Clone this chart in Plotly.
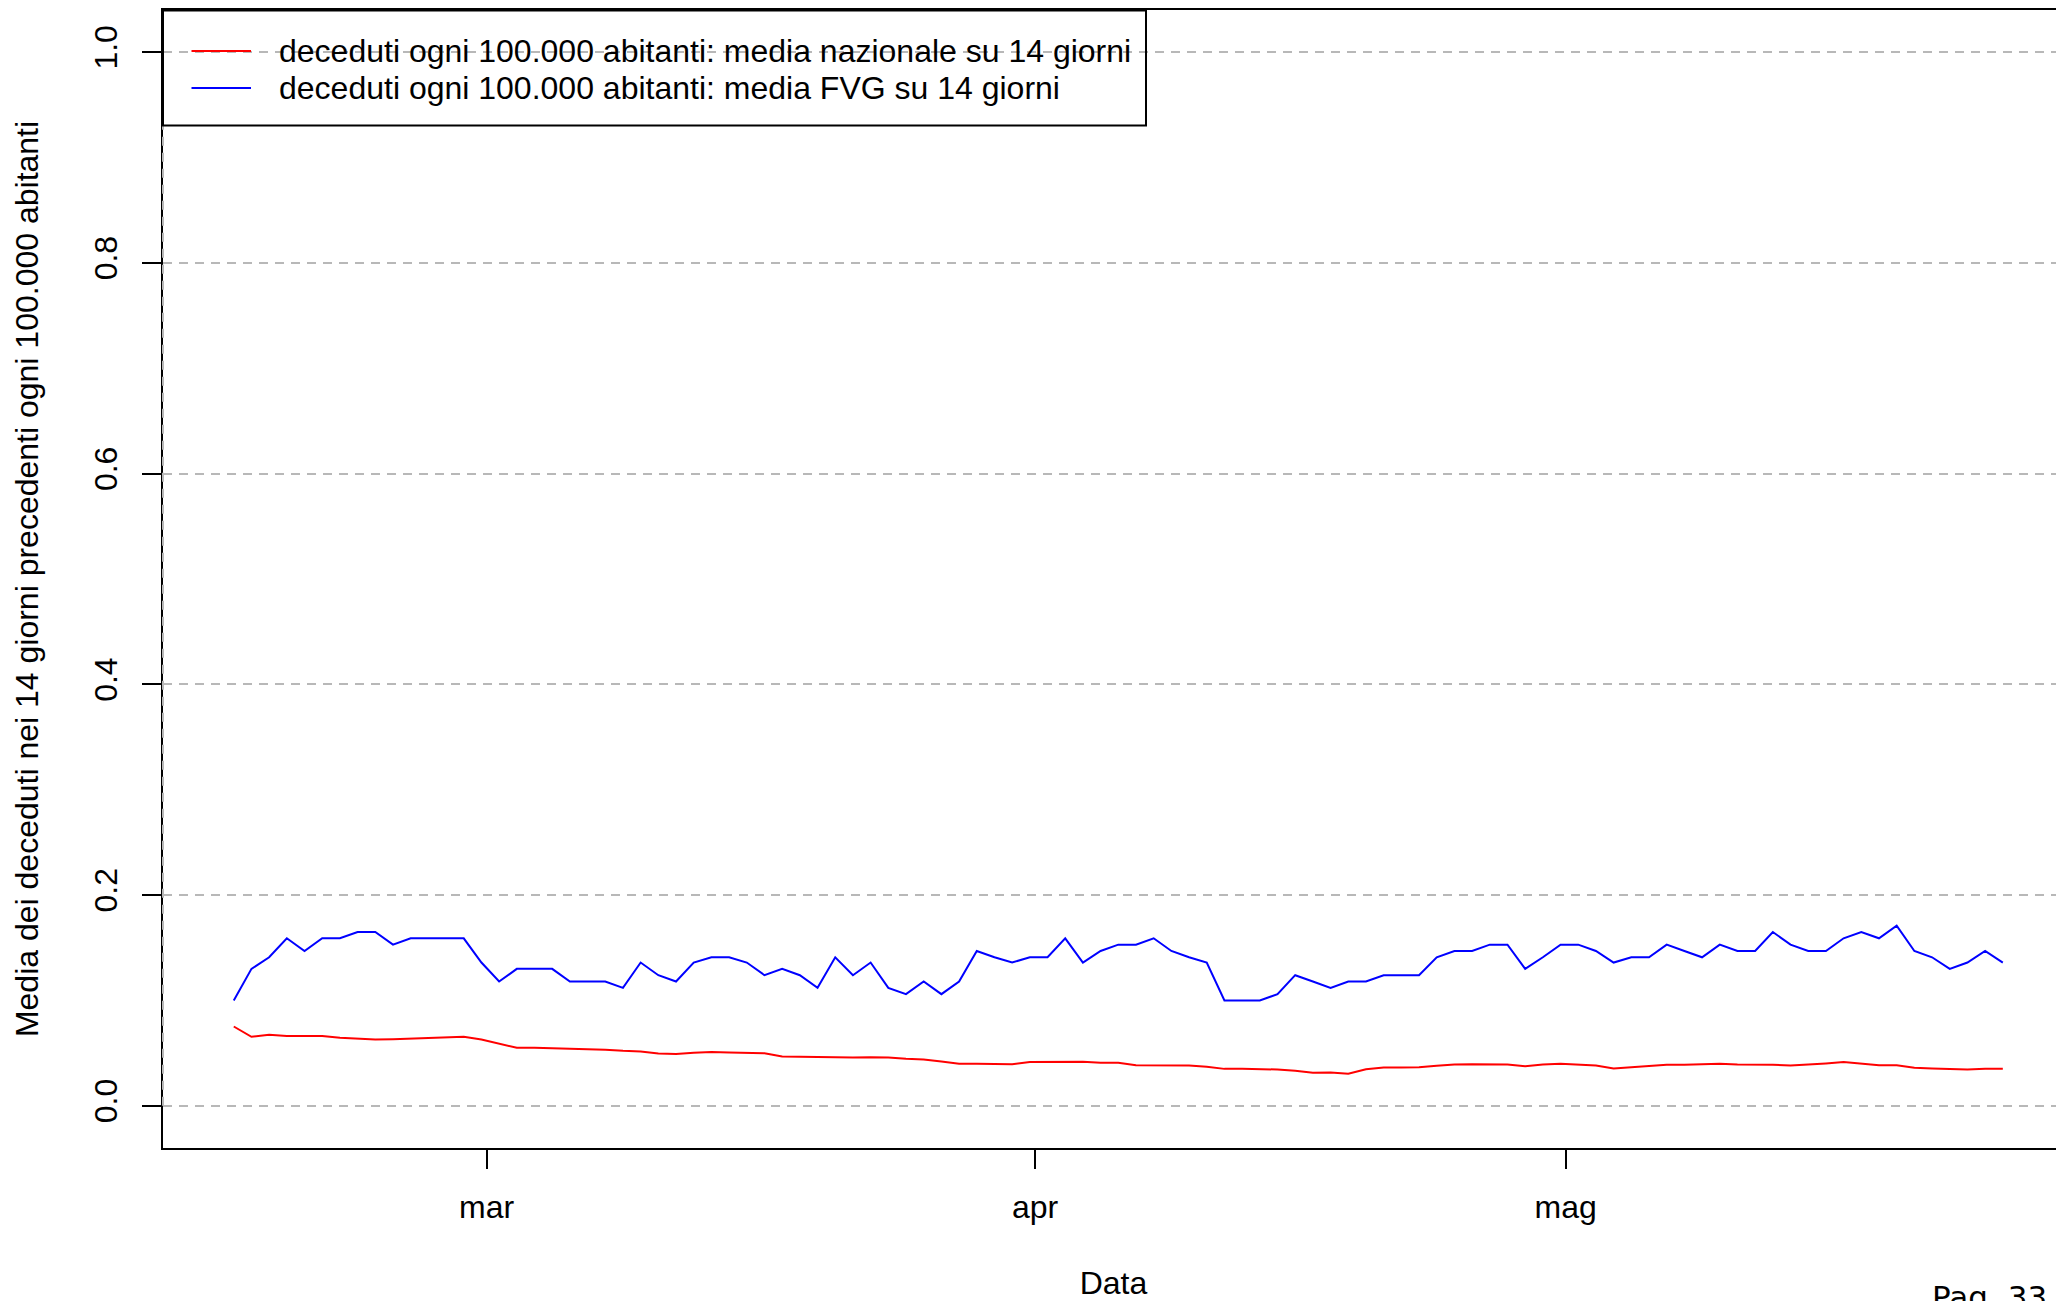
import pandas as pd
import plotly.graph_objects as go

# ---------------- data ----------------
start_date = "2023-02-14 17:00"
n_days = 101

nazionale = [
    0.0753, 0.0655, 0.0674, 0.0664, 0.0664, 0.0664, 0.0646, 0.0636, 0.0630, 0.0633,
    0.0639, 0.0649, 0.0649, 0.0655, 0.0630, 0.0592, 0.0551, 0.0551, 0.0548, 0.0538,
    0.0541, 0.0532, 0.0522, 0.0516, 0.0497, 0.0491, 0.0503, 0.0510, 0.0506, 0.0503,
    0.0500, 0.0468, 0.0465, 0.0462, 0.0459, 0.0459, 0.0462, 0.0459, 0.0446, 0.0440,
    0.0421, 0.0399, 0.0399, 0.0396, 0.0396, 0.0415, 0.0418, 0.0421, 0.0418, 0.0408,
    0.0408, 0.0386, 0.0383, 0.0386, 0.0383, 0.0370, 0.0351, 0.0351, 0.0351, 0.0345,
    0.0332, 0.0314, 0.0317, 0.0304, 0.0348, 0.0364, 0.0364, 0.0367, 0.0380, 0.0392,
    0.0396, 0.0396, 0.0392, 0.0377, 0.0392, 0.0399, 0.0389, 0.0383, 0.0354, 0.0367,
    0.0383, 0.0389, 0.0389, 0.0392, 0.0399, 0.0392, 0.0392, 0.0389, 0.0383, 0.0389,
    0.0402, 0.0415, 0.0399, 0.0386, 0.0386, 0.0361, 0.0354, 0.0348, 0.0345, 0.0351,
    0.0351,
]

fvg = [
    0.100, 0.130, 0.141, 0.159, 0.147, 0.159, 0.159, 0.165, 0.165, 0.153,
    0.159, 0.159, 0.159, 0.159, 0.136, 0.118, 0.130, 0.130, 0.130, 0.118,
    0.118, 0.118, 0.112, 0.136, 0.124, 0.118, 0.136, 0.141, 0.141, 0.136,
    0.124, 0.130, 0.124, 0.112, 0.141, 0.124, 0.136, 0.112, 0.106, 0.118,
    0.106, 0.118, 0.147, 0.141, 0.136, 0.141, 0.141, 0.159, 0.136, 0.147,
    0.153, 0.153, 0.159, 0.147, 0.141, 0.136, 0.100, 0.100, 0.100, 0.106,
    0.124, 0.118, 0.112, 0.118, 0.118, 0.124, 0.124, 0.124, 0.141, 0.147,
    0.147, 0.153, 0.153, 0.130, 0.141, 0.153, 0.153, 0.147, 0.136, 0.141,
    0.141, 0.153, 0.147, 0.141, 0.153, 0.147, 0.147, 0.165, 0.153, 0.147,
    0.147, 0.159, 0.165, 0.159, 0.171, 0.147, 0.141, 0.130, 0.136, 0.147,
    0.136,
]

x_tick_vals = ["2023-03-01", "2023-04-01", "2023-05-01"]
x_tick_text = ["mar", "apr", "mag"]
y_tick_vals = [0.0, 0.2, 0.4, 0.6, 0.8, 1.0]
y_tick_text = ["0.0", "0.2", "0.4", "0.6", "0.8", "1.0"]

legend_labels = [
    "deceduti ogni 100.000 abitanti: media nazionale su 14 giorni",
    "deceduti ogni 100.000 abitanti: media FVG su 14 giorni",
]
series_colors = ["#FF0000", "#0000FF"]

dates = pd.date_range(start_date, periods=n_days, freq="D")

# ---------------- layout geometry (pixels) ----------------
# the page body has an 8px margin, so the figure starts at (8, 8)
OFF = 8
W, H = 2064 - OFF, 1301 - OFF
PLOT_LEFT, PLOT_TOP, PLOT_BOTTOM = 163, 10, 1148   # page pixels
L = PLOT_LEFT - OFF
T = PLOT_TOP - OFF
B = H - (PLOT_BOTTOM - OFF)
R = 0
PW = W - L - R
PH = H - T - B


def px_x(px):
    return (px - PLOT_LEFT) / PW


def px_y(py):
    return (PLOT_BOTTOM - py) / PH


FONT = "Liberation Sans, Arial, Helvetica, sans-serif"

fig = go.Figure()
for vals, name, col in zip([nazionale, fvg], legend_labels, series_colors):
    fig.add_trace(go.Scatter(
        x=dates, y=vals, mode="lines", name=name,
        line=dict(color=col, width=2), showlegend=False,
    ))

shapes = []
# dashed grey segment over the left axis
shapes.append(dict(type="line", xref="paper", yref="y", x0=0, x1=0, y0=0, y1=1,
                   line=dict(color="#b8b8b8", width=2, dash="9px,7px"), layer="above"))
# legend box
shapes.append(dict(type="rect", xref="paper", yref="paper",
                   x0=px_x(163), x1=px_x(1146), y0=px_y(125.5), y1=px_y(10.5),
                   line=dict(color="black", width=2), fillcolor="rgba(0,0,0,0)", layer="above"))
row_y = [51, 88]
annotations = []
for ry, lab, col in zip(row_y, legend_labels, series_colors):
    shapes.append(dict(type="line", xref="paper", yref="paper",
                       x0=px_x(191.5), x1=px_x(251), y0=px_y(ry), y1=px_y(ry),
                       line=dict(color=col, width=2), layer="above"))
    annotations.append(dict(xref="paper", yref="paper", x=px_x(276.5), y=px_y(ry),
                            xanchor="left", yanchor="middle", text=lab, showarrow=False,
                            font=dict(family=FONT, size=32, color="black")))

annotations.append(dict(xref="paper", yref="paper", x=px_x(2049), y=px_y(1277),
                        xanchor="right", yanchor="top", text="Pag. 33", showarrow=False,
                        font=dict(family="DejaVu Sans", size=31, color="black")))

fig.update_layout(
    width=W, height=H,
    margin=dict(l=L, r=R, t=T, b=B, autoexpand=False),
    paper_bgcolor="white", plot_bgcolor="white",
    font=dict(family=FONT, size=32, color="black"),
    shapes=shapes, annotations=annotations,
    showlegend=False,
)

fig.update_xaxes(
    type="date",
    range=["2023-02-10 17:00", "2023-05-29 04:00"],
    tickvals=x_tick_vals, ticktext=x_tick_text,
    ticks="outside", ticklen=19, tickwidth=2, tickcolor="black",
    ticklabelstandoff=11,
    showline=True, linecolor="black", linewidth=2, mirror=True,
    showgrid=False, zeroline=False,
    tickfont=dict(family=FONT, size=32, color="black"),
    title=dict(text="Data", font=dict(family=FONT, size=32, color="black"), standoff=48),
    automargin=False,
)
fig.update_yaxes(
    range=[-0.04, 1.04],
    tickvals=y_tick_vals, ticktext=y_tick_text, tickangle=-90,
    ticks="outside", ticklen=19, tickwidth=2, tickcolor="black",
    ticklabelstandoff=12,
    showline=True, linecolor="black", linewidth=2, mirror=False,
    showgrid=True, gridcolor="#b8b8b8", gridwidth=2, griddash="9px,7px",
    zeroline=False,
    tickfont=dict(family=FONT, size=32, color="black"),
    title=dict(text="Media dei deceduti nei 14 giorni precedenti ogni 100.000 abitanti",
               font=dict(family=FONT, size=32, color="black"), standoff=40),
    automargin=False,
)

fig.write_html("out.html")
